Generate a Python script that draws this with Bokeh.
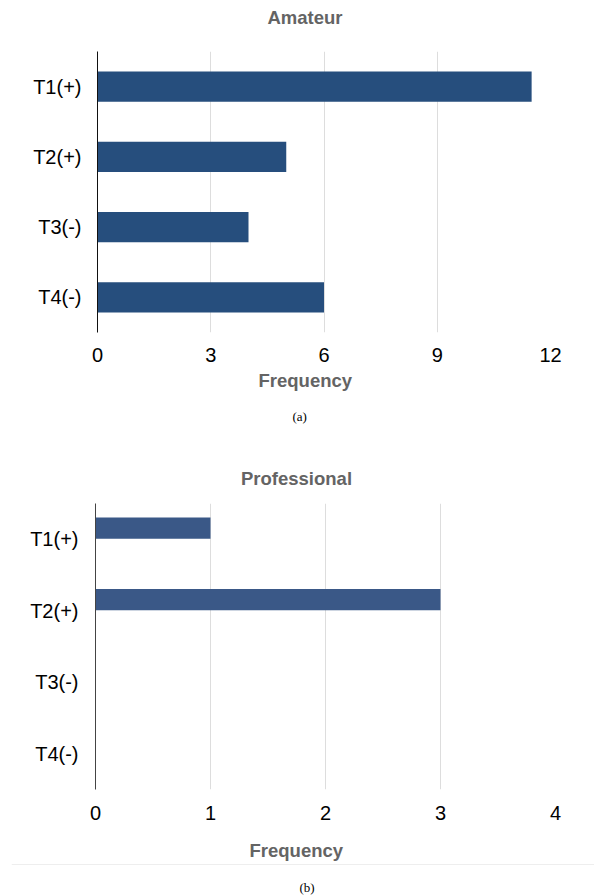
from bokeh.plotting import figure
from bokeh.models import FactorRange, Range1d, Title, Span, FixedTicker, ColumnDataSource
from bokeh.layouts import column
from bokeh.transform import dodge
from bokeh.embed import file_html
from bokeh.resources import INLINE

# ---- data ----
categories = ["T1(+)", "T2(+)", "T3(-)", "T4(-)"]
amateur_freq = [11.5, 5, 4, 6]
professional_freq = [1, 3, 0, 0]
amateur_ticks = [0, 3, 6, 9, 12]
professional_ticks = [0, 1, 2, 3, 4]

SANS = "Liberation Sans"
SERIF = "Liberation Serif"
TITLE_COLOR = "#646464"
GRID_COLOR = "#dddddd"


def style_axes(p, ticks, axis_color, xstand, ystand):
    p.xaxis.ticker = FixedTicker(ticks=ticks)
    p.xaxis.axis_line_color = None
    p.xaxis.major_tick_line_color = None
    p.xaxis.minor_tick_line_color = None
    p.xaxis.major_label_text_font = SANS
    p.xaxis.major_label_text_font_size = "20px"
    p.xaxis.major_label_text_color = "#000000"
    p.xaxis.major_label_standoff = xstand
    p.yaxis.axis_line_color = axis_color
    p.yaxis.axis_line_width = 1
    p.yaxis.major_tick_line_color = None
    p.yaxis.minor_tick_line_color = None
    p.yaxis.major_label_text_font = SANS
    p.yaxis.major_label_text_font_size = "20px"
    p.yaxis.major_label_text_color = "#000000"
    p.yaxis.major_label_standoff = ystand
    p.ygrid.visible = False
    p.xgrid.grid_line_color = GRID_COLOR
    p.outline_line_color = None


def bold_title(p, text, offset, standoff):
    p.title.text = text
    p.title.align = "left"
    p.title.offset = offset
    p.title.standoff = standoff
    p.title.text_font = SANS
    p.title.text_font_size = "18.5px"
    p.title.text_font_style = "bold"
    p.title.text_color = TITLE_COLOR


def add_title(p, side, text, offset, standoff, font=SANS, size="18.5px", style="bold", color=TITLE_COLOR):
    p.add_layout(Title(text=text, align="left", offset=offset, standoff=standoff,
                       text_font=font, text_font_size=size, text_font_style=style,
                       text_color=color), side)


def blank_fig(height, left, right, top, bottom):
    f = figure(width=594, height=height, output_backend="svg", toolbar_location=None,
               x_range=Range1d(0, 1), y_range=Range1d(0, 1), x_axis_type=None, y_axis_type=None,
               min_border_left=left, min_border_right=right, min_border_top=top,
               min_border_bottom=bottom, frame_align=False)
    f.grid.visible = False
    f.outline_line_color = None
    return f


# ---- header of panel (a) ----
p0 = blank_fig(34, 97, 44, 30, 0)
bold_title(p0, "Amateur", 170, 6)

# ---- panel (a) ----
src_a = ColumnDataSource(dict(cat=categories, val=amateur_freq))
pa = figure(width=594, height=411, output_backend="svg", toolbar_location=None,
            y_range=FactorRange(factors=categories[::-1]), x_range=Range1d(0, 12),
            min_border_left=97, min_border_right=44, min_border_top=17, min_border_bottom=113,
            frame_align=False)
pa.hbar(y=dodge("cat", 0, range=pa.y_range), left=0, right="val", height=0.43,
        source=src_a, fill_color="#264e7d", line_color=None)
style_axes(pa, amateur_ticks, "#111111", 9, 10)
add_title(pa, "below", "Frequency", 161, 6)
add_title(pa, "below", "(a)", 195, 26, font=SERIF, size="13px", style="normal", color="#000000")

# ---- panel (b) ----
src_b = ColumnDataSource(dict(cat=categories, val=professional_freq))
pb = figure(width=594, height=385, output_backend="svg", toolbar_location=None,
            y_range=FactorRange(factors=categories[::-1]), x_range=Range1d(0, 4),
            min_border_left=95, min_border_right=39, min_border_top=58, min_border_bottom=41,
            frame_align=False)
pb.hbar(y=dodge("cat", 0.157, range=pb.y_range), left=0, right="val", height=0.297,
        source=src_b, fill_color="#3a5887", line_color=None)
style_axes(pb, professional_ticks, "#444444", 10, 11)
bold_title(pb, "Professional", 145.5, 30)

# ---- axis title of (b), separator line and caption ----
pc = blank_fig(65, 11, 0, 34, 16)
bold_title(pc, "Frequency", 238, 8)
pc.add_layout(Span(location=1, dimension="width", line_color=GRID_COLOR, line_width=1))
add_title(pc, "below", "(b)", 288, 2, font=SERIF, size="13px", style="normal", color="#000000")

layout = column(p0, pa, pb, pc, spacing=0)
open("out.html", "w").write(file_html(layout, INLINE))
